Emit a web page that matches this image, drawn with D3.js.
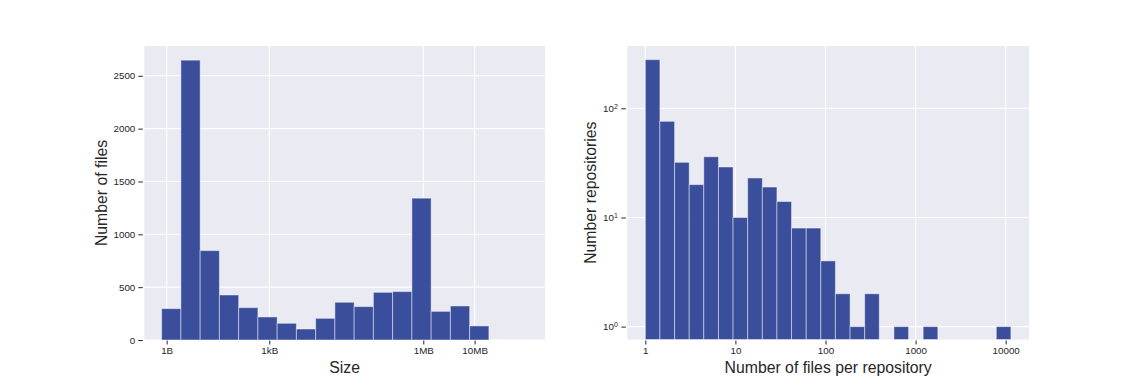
<!DOCTYPE html>
<html>
<head>
	<meta charset="utf-8">
	<script src="https://cdn.jsdelivr.net/npm/d3@7"></script>
	<style type="text/css">
		body { margin: 0; padding: 0; background: white; }
		text { font-family: "Liberation Sans", Arial, sans-serif; fill: #262626; }
	</style>
</head>
<body>
	<script type="text/javascript">

		// left histogram: file size, bins in log10(bytes)
		var sizeBinEdges = [0.903, 1.278, 1.653, 2.028, 2.403, 2.778, 3.153, 3.528, 3.903,
			4.278, 4.653, 5.028, 5.403, 5.778, 6.153, 6.528, 6.903, 7.278];
		var sizeCounts = [297, 2648, 846, 426, 306, 218, 158, 104, 205, 357, 316, 451, 458, 1342, 271, 322, 133];
		var sizeTickExp = [1, 3, 6, 7];
		var sizeTickLabels = ["1B", "1kB", "1MB", "10MB"];
		var countTicks = [0, 500, 1000, 1500, 2000, 2500];

		// right histogram: files per repository, bins in log10(files)
		var repoBinEdges = [0.000, 0.162, 0.325, 0.487, 0.649, 0.812, 0.974, 1.136, 1.299, 1.461,
			1.623, 1.786, 1.948, 2.110, 2.273, 2.435, 2.597, 2.760, 2.922, 3.084,
			3.247, 3.409, 3.571, 3.734, 3.896, 4.058];
		var repoCounts = [279, 76, 32, 20, 36, 29, 10, 23, 19, 14, 8, 8, 4, 2, 1, 2, 0, 1, 0, 1, 0, 0, 0, 0, 1];
		var repoXTicks = [1, 10, 100, 1000, 10000];
		var repoYTickExp = [0, 1, 2];

		var W = 1144, H = 382;
		var barColor = "#3a4e9b";
		var bg = "#eaeaf2";

		var svg = d3.select("body").append("svg")
			.attr("width", W).attr("height", H);

		// ---------- left panel ----------
		var L = {left: 144.3, right: 545, top: 46, bottom: 340};
		var xL = d3.scaleLinear().domain([0.565, 8.371]).range([L.left, L.right]);
		var yL = d3.scaleLinear().domain([0, 2782]).range([L.bottom, L.top]);

		var gL = svg.append("g");
		gL.append("rect").attr("x", L.left).attr("y", L.top)
			.attr("width", L.right - L.left).attr("height", L.bottom - L.top).attr("fill", bg);

		gL.selectAll("line.gy").data(countTicks).enter().append("line")
			.attr("x1", L.left).attr("x2", L.right)
			.attr("y1", function(d){ return yL(d); }).attr("y2", function(d){ return yL(d); })
			.attr("stroke", "white").attr("stroke-width", 1.1);
		gL.selectAll("line.gx").data(sizeTickExp).enter().append("line")
			.attr("x1", function(d){ return xL(d); }).attr("x2", function(d){ return xL(d); })
			.attr("y1", L.top).attr("y2", L.bottom)
			.attr("stroke", "white").attr("stroke-width", 1.1);

		gL.selectAll("rect.bar").data(sizeCounts).enter().append("rect").attr("class", "bar")
			.attr("x", function(d, i){ return xL(sizeBinEdges[i]); })
			.attr("width", function(d, i){ return xL(sizeBinEdges[i + 1]) - xL(sizeBinEdges[i]); })
			.attr("y", function(d){ return yL(d); })
			.attr("height", function(d){ return yL(0) - yL(d); })
			.attr("fill", barColor)
			.attr("stroke", "white").attr("stroke-opacity", 0.45).attr("stroke-width", 1);

		var axLeftY = d3.axisLeft(yL).tickValues(countTicks).tickFormat(d3.format("d")).tickSize(4.5).tickPadding(3);
		gL.append("g").attr("transform", "translate(" + (L.left - 1.5) + ",0)").call(axLeftY)
			.call(function(g){ g.select(".domain").remove(); })
			.call(function(g){ g.selectAll("line").attr("stroke", "#262626"); })
			.call(function(g){ g.selectAll("text").style("font-size", "9.8px").attr("fill", "#262626"); });

		var axLeftX = d3.axisBottom(xL).tickValues(sizeTickExp)
			.tickFormat(function(d, i){ return sizeTickLabels[i]; }).tickSize(4).tickPadding(2.5);
		gL.append("g").attr("transform", "translate(0," + (L.bottom + 0.5) + ")").call(axLeftX)
			.call(function(g){ g.select(".domain").remove(); })
			.call(function(g){ g.selectAll("line").attr("stroke", "#262626"); })
			.call(function(g){ g.selectAll("text").style("font-size", "9.8px").attr("fill", "#262626"); });

		gL.append("text").attr("x", (L.left + L.right) / 2).attr("y", 372.5)
			.attr("text-anchor", "middle").style("font-size", "15.8px").text("Size");
		gL.append("text").attr("transform", "translate(106.5," + ((L.top + L.bottom) / 2) + ") rotate(-90)")
			.attr("text-anchor", "middle").style("font-size", "15.8px").text("Number of files");

		// ---------- right panel ----------
		var R = {left: 627.3, right: 1029, top: 46, bottom: 339.5};
		var xR = d3.scaleLog().domain([Math.pow(10, -0.2), Math.pow(10, 4.259)]).range([R.left, R.right]);
		var yR = d3.scaleLog().domain([Math.pow(10, -0.118), Math.pow(10, 2.571)]).range([R.bottom, R.top]);

		var gR = svg.append("g");
		gR.append("rect").attr("x", R.left).attr("y", R.top)
			.attr("width", R.right - R.left).attr("height", R.bottom - R.top).attr("fill", bg);

		gR.selectAll("line.gy").data(repoYTickExp).enter().append("line")
			.attr("x1", R.left).attr("x2", R.right)
			.attr("y1", function(d){ return yR(Math.pow(10, d)); }).attr("y2", function(d){ return yR(Math.pow(10, d)); })
			.attr("stroke", "white").attr("stroke-width", 1.1);
		gR.selectAll("line.gx").data(repoXTicks).enter().append("line")
			.attr("x1", function(d){ return xR(d); }).attr("x2", function(d){ return xR(d); })
			.attr("y1", R.top).attr("y2", R.bottom)
			.attr("stroke", "white").attr("stroke-width", 1.1);

		// empty bins draw nothing on a log axis
		var repoBars = repoCounts.map(function(c, i){ return {c: c, x0: repoBinEdges[i], x1: repoBinEdges[i + 1]}; })
			.filter(function(d){ return d.c > 0; });
		gR.selectAll("rect.rbar").data(repoBars).enter().append("rect").attr("class", "rbar")
			.attr("x", function(d){ return xR(Math.pow(10, d.x0)); })
			.attr("width", function(d){ return xR(Math.pow(10, d.x1)) - xR(Math.pow(10, d.x0)); })
			.attr("y", function(d){ return yR(d.c); })
			.attr("height", function(d){ return R.bottom - yR(d.c); })
			.attr("fill", barColor)
			.attr("stroke", "white").attr("stroke-opacity", 0.45).attr("stroke-width", 1);

		var axRightY = d3.axisLeft(yR).tickValues(repoYTickExp.map(function(e){ return Math.pow(10, e); }))
			.tickFormat("").tickSize(4.5).tickPadding(3);
		var gy = gR.append("g").attr("transform", "translate(" + (R.left - 1.5) + ",0)").call(axRightY);
		gy.select(".domain").remove();
		gy.selectAll("line").attr("stroke", "#262626");
		gy.selectAll(".tick").each(function(d){
			var t = d3.select(this).append("text").attr("x", -8).attr("dy", "0.32em")
				.attr("text-anchor", "end").style("font-size", "9.8px").attr("fill", "#262626");
			t.append("tspan").text("10");
			t.append("tspan").attr("dy", "-0.45em").style("font-size", "7px").text(Math.round(Math.log10(d)));
		});

		var axRightX = d3.axisBottom(xR).tickValues(repoXTicks).tickFormat(d3.format("d")).tickSize(4).tickPadding(2.5);
		gR.append("g").attr("transform", "translate(0," + (R.bottom + 1) + ")").call(axRightX)
			.call(function(g){ g.select(".domain").remove(); })
			.call(function(g){ g.selectAll("line").attr("stroke", "#262626"); })
			.call(function(g){ g.selectAll("text").style("font-size", "9.8px").attr("fill", "#262626"); });

		gR.append("text").attr("x", (R.left + R.right) / 2).attr("y", 372.5)
			.attr("text-anchor", "middle").style("font-size", "15.8px").text("Number of files per repository");
		gR.append("text").attr("transform", "translate(596," + ((R.top + R.bottom) / 2) + ") rotate(-90)")
			.attr("text-anchor", "middle").style("font-size", "15.8px").text("Number repositories");

	</script>
</body>
</html>
